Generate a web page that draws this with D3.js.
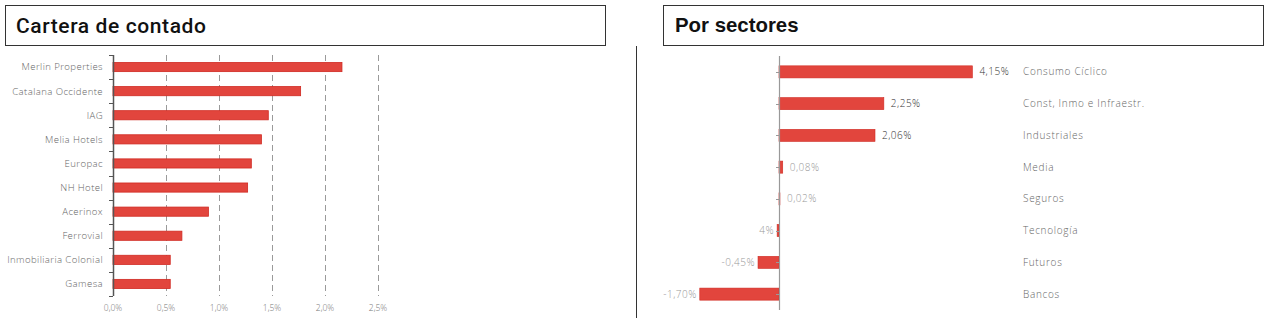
<!DOCTYPE html>
<html><head><meta charset="utf-8">
<script src="https://cdn.jsdelivr.net/npm/d3@7"></script>
<style>body{margin:0;background:#fff}svg{display:block}</style>
</head><body>
<script>
// Left chart data
const carteraNames = ["Merlin Properties","Catalana Occidente","IAG","Melia Hotels","Europac","NH Hotel","Acerinox","Ferrovial","Inmobiliaria Colonial","Gamesa"];
const carteraValues = [2.16,1.77,1.465,1.40,1.305,1.27,0.90,0.65,0.54,0.54];
const carteraTicks = [0,0.5,1.0,1.5,2.0,2.5];
const carteraTickLabels = ["0,0%","0,5%","1,0%","1,5%","2,0%","2,5%"];
// Right chart data
const sectorNames = ["Consumo Cíclico","Const, Inmo e Infraestr.","Industriales","Media","Seguros","Tecnología","Futuros","Bancos"];
const sectorValues = [4.15,2.25,2.06,0.08,0.02,-0.04,-0.45,-1.70];
const sectorLabels = ["4,15%","2,25%","2,06%","0,08%","0,02%","4%","-0,45%","-1,70%"];

const W = 1268, H = 318;
const svg = d3.select("body").append("svg").attr("width", W).attr("height", H);
const barFill = "#e2453d", barStroke = "#d02a22";
const lightFont = "'Open Sans', Roboto, sans-serif";

// Title boxes
svg.append("rect").attr("x",5.5).attr("y",5.5).attr("width",600).attr("height",40)
  .attr("fill","#fff").attr("stroke","#333").attr("stroke-width",1);
svg.append("text").attr("x",16).attr("y",32.5).text("Cartera de contado")
  .attr("font-family","Roboto, sans-serif").attr("font-weight",500).attr("font-size",21)
  .attr("letter-spacing",0.6).attr("fill","#111");
svg.append("rect").attr("x",663.5).attr("y",5.5).attr("width",600).attr("height",40)
  .attr("fill","#fff").attr("stroke","#333").attr("stroke-width",1);
svg.append("text").attr("x",675).attr("y",31.5).text("Por sectores")
  .attr("font-family","'Liberation Sans', Arial, sans-serif").attr("font-weight",700).attr("font-size",20.4).attr("fill","#111");
// separator
svg.append("line").attr("x1",636.5).attr("x2",636.5).attr("y1",46).attr("y2",318)
  .attr("stroke","#333").attr("stroke-width",1);

// ---------- Left chart ----------
const xL = d3.scaleLinear().domain([0,2.5]).range([113,378]);
const yL = d3.scaleBand().domain(carteraNames).range([55,296]).paddingInner(0.62).paddingOuter(0.31);
const gL = svg.append("g");
gL.selectAll("line.grid").data(carteraTicks.slice(1)).join("line")
  .attr("x1",d=>Math.round(xL(d))+0.5).attr("x2",d=>Math.round(xL(d))+0.5)
  .attr("y1",55).attr("y2",296)
  .attr("stroke","#9a9a9a").attr("stroke-width",1).attr("stroke-dasharray","6,4");
gL.selectAll("rect.bar").data(carteraValues).join("rect")
  .attr("x",xL(0)).attr("y",(d,i)=>yL(carteraNames[i]))
  .attr("width",d=>xL(d)-xL(0)).attr("height",yL.bandwidth())
  .attr("fill",barFill).attr("stroke",barStroke).attr("stroke-width",0.8);
const boundsL = carteraNames.map(n=>yL(n)-yL.step()*yL.paddingInner()/2).concat([296]);
gL.append("line").attr("x1",113.5).attr("x2",113.5).attr("y1",55).attr("y2",296)
  .attr("stroke","#555").attr("stroke-width",1.5);
gL.selectAll("line.tk").data(boundsL).join("line")
  .attr("x1",109).attr("x2",113).attr("y1",d=>Math.round(d)+0.5).attr("y2",d=>Math.round(d)+0.5)
  .attr("stroke","#555").attr("stroke-width",1);
gL.selectAll("text.cat").data(carteraNames).join("text")
  .attr("x",103).attr("y",d=>yL(d)+yL.bandwidth()/2).attr("dy","0.35em")
  .attr("text-anchor","end").text(d=>d)
  .attr("font-family",lightFont).attr("font-weight",300).attr("font-size",9.6)
  .attr("letter-spacing",0.4).attr("fill","#666");
gL.selectAll("text.xt").data(carteraTicks).join("text")
  .attr("x",d=>xL(d)).attr("y",308).attr("dy","0.35em").attr("text-anchor","middle")
  .text((d,i)=>carteraTickLabels[i])
  .attr("font-family",lightFont).attr("font-weight",300).attr("font-size",8.5).attr("fill","#777");

// ---------- Right chart ----------
const xR = d3.scaleLinear().domain([-2,4.5]).range([779-93.2,779+209.7]);
const yR = d3.scaleBand().domain(sectorNames).range([56,310]).paddingInner(0.62).paddingOuter(0.31);
const gR = svg.append("g");
gR.selectAll("rect.bar").data(sectorValues).join("rect")
  .attr("x",d=>xR(Math.min(0,d))).attr("y",(d,i)=>yR(sectorNames[i]))
  .attr("width",d=>Math.max(0.8,Math.abs(xR(d)-xR(0)))).attr("height",yR.bandwidth())
  .attr("fill",barFill).attr("stroke",barStroke).attr("stroke-width",0.6);
gR.append("line").attr("x1",779.5).attr("x2",779.5).attr("y1",56).attr("y2",310)
  .attr("stroke","#999").attr("stroke-width",1.2);
gR.selectAll("line.tk").data(sectorNames).join("line")
  .attr("x1",776).attr("x2",779).attr("y1",d=>Math.round(yR(d)+yR.bandwidth()/2)+0.5)
  .attr("y2",d=>Math.round(yR(d)+yR.bandwidth()/2)+0.5)
  .attr("stroke","#999").attr("stroke-width",1);
gR.selectAll("text.val").data(sectorValues).join("text")
  .attr("x",d=>d>=0 ? xR(d)+7 : xR(d)-3)
  .attr("y",(d,i)=>yR(sectorNames[i])+yR.bandwidth()/2).attr("dy","0.35em")
  .attr("text-anchor",d=>d>=0?"start":"end")
  .text((d,i)=>sectorLabels[i])
  .attr("font-family",lightFont).attr("font-weight",300).attr("font-size",10)
  .attr("letter-spacing",0.5)
  .attr("fill",d=>d>1?"#333":"#999");
gR.selectAll("text.cat").data(sectorNames).join("text")
  .attr("x",1023).attr("y",d=>yR(d)+yR.bandwidth()/2).attr("dy","0.35em")
  .text(d=>d)
  .attr("font-family",lightFont).attr("font-weight",300).attr("font-size",10)
  .attr("letter-spacing",0.7).attr("fill","#666");
</script>
</body></html>
